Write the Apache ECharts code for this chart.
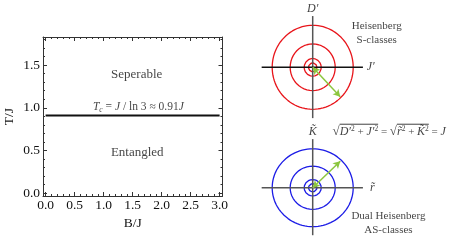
<!DOCTYPE html>
<html><head><meta charset="utf-8">
<script src="https://cdn.jsdelivr.net/npm/echarts@6/dist/echarts.min.js"></script>
<style>html,body{margin:0;padding:0;background:#fff}#c{width:463px;height:250px}</style>
</head><body><div id="c"></div>
<script>
// ---- data ----
const xMajorTicks = [0, 0.5, 1.0, 1.5, 2.0, 2.5, 3.0];
const yMajorTicks = [0, 0.5, 1.0, 1.5];
const boundaryB = [0, 3];
const boundaryT = [0.91, 0.91];
const regionLabels = ['Seperable', 'Entangled'];
const regionPos = [[1.57, 1.39], [1.58, 0.47]];
const tcLabelPos = [1.6, 1.01];
const circleRadii = [1.0, 0.556, 0.21, 0.104];
const topAxisH = [-1.26, 1.24];
const topAxisV = [-1.21, 1.22];
const botAxisH = [-1.26, 1.24];
const botAxisV = [-1.22, 1.25];
const arrowTop = [0.68, -0.70];
const arrowBottom = [0.68, 0.68];
const eqPos = [0.49, 1.44];

const serif = 'Liberation Serif';
const txt = '#111';
const xMinor = [], yMinor = [];
for (let i = 0; i <= 30; i++) if (i % 5) xMinor.push(i / 10);
for (let i = 0; i <= 18; i++) if (i % 5) yMinor.push(i / 10);

const XMIN = -0.045, XMAX = 3.05, YMIN = -0.035, YMAX = 1.83;
function frameAxis(kind, pos, ticks, len, showLine, labels) {
  const a = {
    type: 'value', gridIndex: 0, position: pos,
    min: kind === 'x' ? XMIN : YMIN, max: kind === 'x' ? XMAX : YMAX,
    splitLine: { show: false },
    axisLine: { show: showLine, onZero: false, lineStyle: { color: '#333', width: 1 } },
    axisTick: { show: true, inside: true, length: len, customValues: ticks, lineStyle: { color: '#333', width: 1 } },
    axisLabel: { show: false }
  };
  if (labels) {
    a.axisLabel = { show: true, customValues: ticks, formatter: v => v.toFixed(1),
      fontFamily: serif, fontSize: 13.5, color: txt, margin: kind === 'x' ? 2 : 3 };
  }
  return a;
}

const xAxes = [
  Object.assign(frameAxis('x', 'bottom', xMajorTicks, 4, true, true),
    { name: 'B/J', nameLocation: 'middle', nameGap: 14, nameTextStyle: { fontFamily: serif, fontSize: 13.5, color: txt } }),
  frameAxis('x', 'bottom', xMinor, 2, false, false),
  frameAxis('x', 'top', xMajorTicks, 4, true, false),
  frameAxis('x', 'top', xMinor, 2, false, false),
  { type: 'value', gridIndex: 1, min: -1.6, max: 3.4, show: false },
  { type: 'value', gridIndex: 2, min: -1.6, max: 3.4, show: false }
];
const yAxes = [
  Object.assign(frameAxis('y', 'left', yMajorTicks, 4, true, true),
    { name: 'T/J', nameLocation: 'middle', nameGap: 27, nameRotate: 90, nameTextStyle: { fontFamily: serif, fontSize: 13.5, color: txt } }),
  frameAxis('y', 'left', yMinor, 2, false, false),
  frameAxis('y', 'right', yMajorTicks, 4, true, false),
  frameAxis('y', 'right', yMinor, 2, false, false),
  { type: 'value', gridIndex: 1, min: -1.6, max: 1.6, show: false },
  { type: 'value', gridIndex: 2, min: -1.6, max: 1.6, show: false }
];

const series = [];
series.push({ type: 'line', xAxisIndex: 0, yAxisIndex: 0, symbol: 'none', silent: true,
  data: [[boundaryB[0], boundaryT[0]], [boundaryB[1], boundaryT[1]]],
  lineStyle: { color: '#111', width: 2 } });
series.push({ type: 'scatter', xAxisIndex: 0, yAxisIndex: 0, symbolSize: 0, silent: true, clip: false,
  data: regionLabels.map((t, i) => ({ value: regionPos[i], name: t })),
  label: { show: true, position: 'inside', formatter: p => p.name, fontFamily: serif, fontSize: 13, color: txt } });
series.push({ type: 'scatter', xAxisIndex: 0, yAxisIndex: 0, symbolSize: 0, silent: true, clip: false,
  data: [tcLabelPos],
  label: { show: true, position: 'inside',
    formatter: '{i|T}{s|c} = {i|J} / ln 3 ≈ 0.91{i|J}',
    fontFamily: serif, fontSize: 11.5, color: txt,
    rich: { i: { fontFamily: serif, fontStyle: 'italic', fontSize: 11.5, color: txt },
            s: { fontFamily: serif, fontStyle: 'italic', fontSize: 7.5, color: txt, verticalAlign: 'bottom', padding: [6, 0, 0, 0] } } } });

function diagram(gi, color, hLine, vLine, hColor, arrowEnd) {
  circleRadii.forEach(r => {
    const pts = [];
    for (let k = 0; k <= 96; k++) { const t = k / 96 * 2 * Math.PI; pts.push([r * Math.cos(t), r * Math.sin(t)]); }
    series.push({ type: 'line', xAxisIndex: gi + 3, yAxisIndex: gi + 3, symbol: 'none', silent: true, clip: false,
      data: pts, lineStyle: { color: color, width: 1.3 }, z: 2 });
  });
  series.push({ type: 'line', xAxisIndex: gi + 3, yAxisIndex: gi + 3, symbol: 'none', silent: true, clip: false,
    data: [[0, vLine[0]], [0, vLine[1]]], lineStyle: { color: '#555', width: 1.5 }, z: 3 });
  series.push({ type: 'line', xAxisIndex: gi + 3, yAxisIndex: gi + 3, symbol: 'none', silent: true, clip: false,
    data: [[hLine[0], 0], [hLine[1], 0]], lineStyle: { color: hColor, width: 1.5 }, z: 3,
    markLine: { silent: true, symbol: ['arrow', 'arrow'], symbolSize: [6, 7], label: { show: false },
      lineStyle: { color: '#8cc63e', width: 1.5, type: 'solid' },
      data: [[{ coord: [0, 0] }, { coord: arrowEnd }]] } });
}
diagram(1, '#e8151b', topAxisH, topAxisV, '#111', arrowTop);
diagram(2, '#1c1ce6', botAxisH, botAxisV, '#555', arrowBottom);

const EQ_FS = 11, EQ_SUP = 7.5;
const richStyles = {
  i: { fontFamily: serif, fontStyle: 'italic', fontSize: 12, color: txt },
  s: { fontFamily: serif, fontSize: EQ_SUP, color: txt, verticalAlign: 'top', padding: [0, 0, 5, 0] },
  n: { fontFamily: serif, fontSize: EQ_FS, color: txt },
  q: { fontFamily: serif, fontSize: 13, color: txt }
};
function diagLabel(gi, pos, fmt, place, extra) {
  series.push({ type: 'scatter', xAxisIndex: gi + 3, yAxisIndex: gi + 3, symbolSize: 0, silent: true, clip: false,
    data: [pos],
    label: Object.assign({ show: true, position: place, distance: 0, formatter: fmt, fontFamily: serif, fontSize: 11, color: txt,
      rich: richStyles }, extra || {}) });
}
diagLabel(1, [0, 1.40], '{i|D′}', 'inside');
diagLabel(1, [1.43, 0], '{i|J′}', 'inside');
diagLabel(1, [1.58, 0.81], 'Heisenberg\nS-classes', 'inside', { lineHeight: 13.4 });
diagLabel(2, [0, 1.44], '{i|K̃}', 'inside');
diagLabel(2, [1.47, 0], '{i|r̃}', 'inside');
diagLabel(2, [1.87, -0.91], 'Dual Heisenberg\nAS-classes', 'inside', { lineHeight: 13.4 });

// equation pieces (style key, text, overbar group)
const eqPieces = [
  ['q', '√', 0], ['i', 'D′', 1], ['s', '2', 1], ['n', ' + ', 1], ['i', 'J′', 1], ['s', '2', 1],
  ['n', ' = ', 0], ['q', '√', 0], ['i', 'r̃', 2], ['s', '2', 2], ['n', ' + ', 2], ['i', 'K̃', 2], ['s', '2', 2],
  ['n', ' = ', 0], ['i', 'J', 0]
];
diagLabel(2, eqPos, eqPieces.map(p => '{' + p[0] + '|' + p[1] + '}').join(''), 'right', { fontSize: EQ_FS });

const chart = echarts.init(document.getElementById('c'), null, { renderer: 'canvas' });
chart.setOption({
  animation: false,
  backgroundColor: '#fff',
  grid: [
    { left: 43, top: 37, width: 179.5, height: 159 },
    { left: 247.9, top: 0.1, width: 202.5, height: 134.4 },
    { left: 247.9, top: 125.5, width: 202.5, height: 134.4 }
  ],
  xAxis: xAxes, yAxis: yAxes, series: series
});

// overbars of the square roots, placed from measured text widths
const ctx = document.createElement('canvas').getContext('2d');
const start = chart.convertToPixel({ xAxisIndex: 5, yAxisIndex: 5 }, eqPos);
let x = start[0];
const bars = {};
eqPieces.forEach(p => {
  const st = richStyles[p[0]];
  ctx.font = (st.fontStyle ? st.fontStyle + ' ' : '') + st.fontSize + 'px "' + serif + '"';
  const w = ctx.measureText(p[1]).width;
  if (p[2]) {
    if (!bars[p[2]]) bars[p[2]] = [x, x + w]; else bars[p[2]][1] = x + w;
  }
  x += w;
});
const barY = start[1] - 7.5;
chart.setOption({
  graphic: Object.keys(bars).map(k => ({ type: 'line', silent: true,
    shape: { x1: bars[k][0], y1: barY, x2: bars[k][1], y2: barY }, style: { stroke: txt, lineWidth: 0.8 } }))
});
</script></body></html>
